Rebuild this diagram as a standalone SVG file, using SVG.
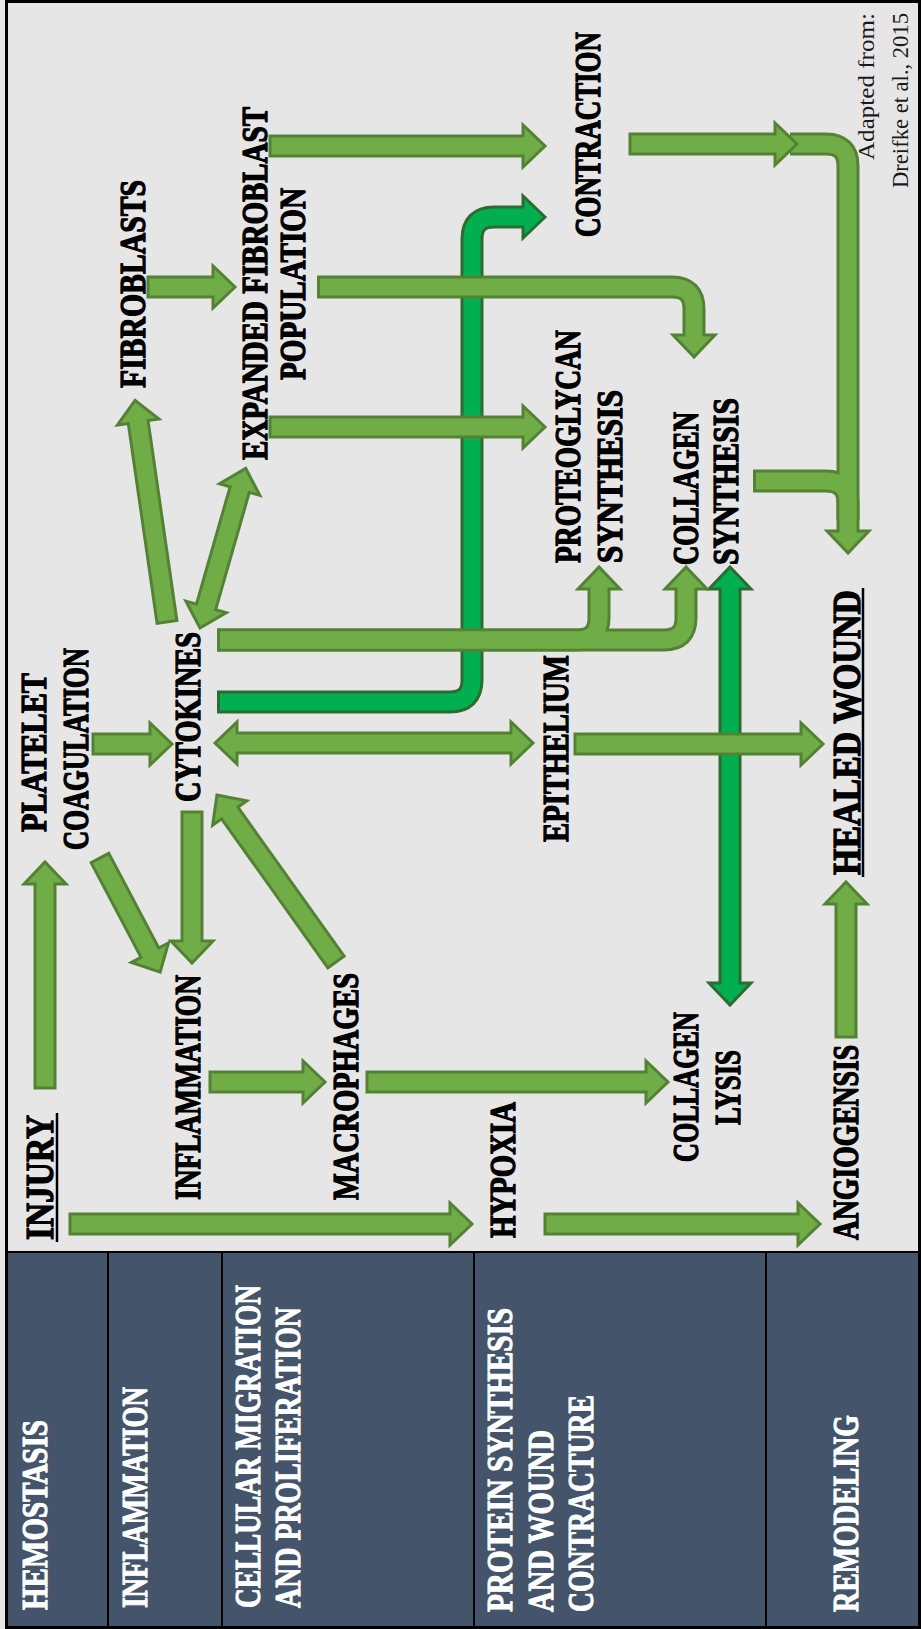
<svg xmlns="http://www.w3.org/2000/svg" width="921" height="1629" viewBox="0 0 921 1629">
<style>
.t{font-family:'Liberation Serif','Times New Roman',serif;font-weight:bold;font-size:36px;fill:#000;stroke:#000;stroke-width:1.3;stroke-linejoin:round}
.big{font-size:41px}
.p{font-family:'Liberation Serif','Times New Roman',serif;font-weight:bold;font-size:36px;fill:#fff;stroke:#fff;stroke-width:1.1;stroke-linejoin:round}
.cite{font-family:'Liberation Serif','Times New Roman',serif;font-size:23px;fill:#1a1a1a}
.a{fill:#70ad47;stroke:#548235;stroke-width:3;stroke-linejoin:miter}
.b{fill:#00b050;stroke:#2e6b30;stroke-width:3;stroke-linejoin:miter}
.ao{fill:none;stroke:#548235;stroke-width:23}
.ai{fill:none;stroke:#70ad47;stroke-width:17}
.bo{fill:none;stroke:#2e6b30;stroke-width:23}
.bi{fill:none;stroke:#00b050;stroke-width:17}
.sep{stroke:#000;stroke-width:2}
.ul{stroke:#000;stroke-width:2.5}
</style>
<rect x="0" y="0" width="921" height="1629" fill="#e7e6e6"/>
<g id="phase-panel">
<rect x="7" y="1252" width="913" height="375" fill="#44546a"/>
<line class="sep" x1="7" y1="1252" x2="920" y2="1252"/>
<line class="sep" x1="108" y1="1252" x2="108" y2="1627"/>
<line class="sep" x1="222" y1="1252" x2="222" y2="1627"/>
<line class="sep" x1="474" y1="1252" x2="474" y2="1627"/>
<line class="sep" x1="766" y1="1252" x2="766" y2="1627"/>
<text class="p" transform="translate(47,1610) rotate(-90)" textLength="190" lengthAdjust="spacingAndGlyphs">HEMOSTASIS</text>
<text class="p" transform="translate(147,1608) rotate(-90)" textLength="221" lengthAdjust="spacingAndGlyphs">INFLAMMATION</text>
<text class="p" transform="translate(260,1608) rotate(-90)" textLength="323" lengthAdjust="spacingAndGlyphs">CELLULAR MIGRATION</text>
<text class="p" transform="translate(300,1608) rotate(-90)" textLength="301" lengthAdjust="spacingAndGlyphs">AND PROLIFERATION</text>
<text class="p" transform="translate(512,1612) rotate(-90)" textLength="304" lengthAdjust="spacingAndGlyphs">PROTEIN SYNTHESIS</text>
<text class="p" transform="translate(553,1612) rotate(-90)" textLength="182" lengthAdjust="spacingAndGlyphs">AND WOUND</text>
<text class="p" transform="translate(593,1612) rotate(-90)" textLength="217" lengthAdjust="spacingAndGlyphs">CONTRACTURE</text>
<text class="p" transform="translate(858,1612) rotate(-90)" textLength="197" lengthAdjust="spacingAndGlyphs">REMODELING</text>
</g>
<rect x="6.5" y="1.5" width="913" height="1626" fill="none" stroke="#000" stroke-width="3"/>

<g id="connectors">
<g id="bright">
<path class="bo" d="M217,702 H450 Q472,702 472,680 V239 Q472,217 494,217 H523"/>
<polygon class="b" points="545,217 523,196 523,238"/>
<path class="bi" d="M220,702 H450 Q472,702 472,680 V239 Q472,217 494,217 H526"/>
<polygon class="b" transform="translate(730,567) rotate(90)" points="0,0 22,-21 22,-10 416,-10 416,-21 438,0 416,21 416,10 22,10 22,21"/>
</g>
<g id="light">
<polygon class="a" transform="translate(45,1088) rotate(-90)" points="0,-10 204,-10 204,-21 226,0 204,21 204,10 0,10"/>
<polygon class="a" transform="translate(100,858) rotate(62.2)" points="0,-10 107,-10 107,-21 129,0 107,21 107,10 0,10"/>
<polygon class="a" transform="translate(192,812) rotate(90)" points="0,-10 129,-10 129,-21 151,0 129,21 129,10 0,10"/>
<polygon class="a" transform="translate(336,962) rotate(-125.5)" points="0,-10 183,-10 183,-21 205,0 183,21 183,10 0,10"/>
<polygon class="a" transform="translate(93,744)" points="0,-10 57,-10 57,-21 79,0 57,21 57,10 0,10"/>
<polygon class="a" transform="translate(215,743)" points="0,0 22,-21 22,-10 296,-10 296,-21 318,0 296,21 296,10 22,10 22,21"/>
<polygon class="a" transform="translate(167,622) rotate(-98.2)" points="0,-10 202,-10 202,-21 224,0 202,21 202,10 0,10"/>
<polygon class="a" transform="translate(200,628) rotate(-74)" points="0,0 22,-21 22,-10 144,-10 144,-21 166,0 144,21 144,10 22,10 22,21"/>
<polygon class="a" transform="translate(270,427)" points="0,-10 253,-10 253,-21 275,0 253,21 253,10 0,10"/>
<polygon class="a" transform="translate(270,146)" points="0,-10 253,-10 253,-21 275,0 253,21 253,10 0,10"/>
<polygon class="a" transform="translate(148,287)" points="0,-10 65,-10 65,-21 87,0 65,21 65,10 0,10"/>
<polygon class="a" transform="translate(210,1082)" points="0,-10 93,-10 93,-21 115,0 93,21 93,10 0,10"/>
<polygon class="a" transform="translate(367,1082)" points="0,-10 279,-10 279,-21 301,0 279,21 279,10 0,10"/>
<polygon class="a" transform="translate(70,1224)" points="0,-10 380,-10 380,-21 402,0 380,21 380,10 0,10"/>
<polygon class="a" transform="translate(545,1224)" points="0,-10 253,-10 253,-21 275,0 253,21 253,10 0,10"/>
<polygon class="a" transform="translate(846,1037) rotate(-90)" points="0,-10 133,-10 133,-21 155,0 133,21 133,10 0,10"/>
<polygon class="a" transform="translate(575,744)" points="0,-10 226,-10 226,-21 248,0 226,21 226,10 0,10"/>
<path class="ao" d="M217,640 H577 Q599,640 599,618 V589"/>
<path class="ao" d="M217,640 H664 Q686,640 686,618 V589"/>
<path class="ao" d="M317,287 H672 Q694,287 694,309 V335"/>
<path class="ao" d="M790,144 H826 Q848,144 848,166 V531"/>
<path class="ao" d="M753,481 H826 Q848,481 848,503 V520"/>
<polygon class="a" points="599,567 578,589 620,589"/>
<polygon class="a" points="686,567 665,589 707,589"/>
<polygon class="a" points="694,357 673,335 715,335"/>
<polygon class="a" points="848,553 827,531 869,531"/>
<path class="ai" d="M220,640 H577 Q599,640 599,618 V587"/>
<path class="ai" d="M220,640 H664 Q686,640 686,618 V587"/>
<path class="ai" d="M320,287 H672 Q694,287 694,309 V337"/>
<path class="ai" d="M790,144 H826 Q848,144 848,166 V533"/>
<path class="ai" d="M756,481 H826 Q848,481 848,503 V520"/>
<polygon class="a" transform="translate(630,144)" points="0,-10 145,-10 145,-21 167,0 145,21 145,10 0,10"/>
</g>
</g>

<g id="node-injury"><text class="t big" transform="translate(53,1240) rotate(-90)" textLength="125" lengthAdjust="spacingAndGlyphs">INJURY</text><line class="ul" x1="57" y1="1242" x2="57" y2="1113"/></g>
<g id="node-platelet"><text class="t" transform="translate(46,832) rotate(-90)" textLength="159" lengthAdjust="spacingAndGlyphs">PLATELET</text><text class="t" transform="translate(88,850) rotate(-90)" textLength="202" lengthAdjust="spacingAndGlyphs">COAGULATION</text></g>
<g id="node-cytokines"><text class="t" transform="translate(200,802) rotate(-90)" textLength="170" lengthAdjust="spacingAndGlyphs">CYTOKINES</text></g>
<g id="node-inflammation"><text class="t" transform="translate(200,1200) rotate(-90)" textLength="225" lengthAdjust="spacingAndGlyphs">INFLAMMATION</text></g>
<g id="node-macrophages"><text class="t" transform="translate(358,1200) rotate(-90)" textLength="227" lengthAdjust="spacingAndGlyphs">MACROPHAGES</text></g>
<g id="node-hypoxia"><text class="t" transform="translate(515,1238) rotate(-90)" textLength="136" lengthAdjust="spacingAndGlyphs">HYPOXIA</text></g>
<g id="node-collagen-lysis"><text class="t" transform="translate(698,1162) rotate(-90)" textLength="150" lengthAdjust="spacingAndGlyphs">COLLAGEN</text><text class="t" transform="translate(740,1125) rotate(-90)" textLength="75" lengthAdjust="spacingAndGlyphs">LYSIS</text></g>
<g id="node-angiogenesis"><text class="t" transform="translate(858,1240) rotate(-90)" textLength="195" lengthAdjust="spacingAndGlyphs">ANGIOGENSIS</text></g>
<g id="node-healed"><text class="t big" transform="translate(860,875) rotate(-90)" textLength="285" lengthAdjust="spacingAndGlyphs">HEALED WOUND</text><line class="ul" x1="863" y1="877" x2="863" y2="588"/></g>
<g id="node-epithelium"><text class="t" transform="translate(568,842) rotate(-90)" textLength="187" lengthAdjust="spacingAndGlyphs">EPITHELIUM</text></g>
<g id="node-proteoglycan"><text class="t" transform="translate(580,563) rotate(-90)" textLength="233" lengthAdjust="spacingAndGlyphs">PROTEOGLYCAN</text><text class="t" transform="translate(622,563) rotate(-90)" textLength="173" lengthAdjust="spacingAndGlyphs">SYNTHESIS</text></g>
<g id="node-collagen-synthesis"><text class="t" transform="translate(698,565) rotate(-90)" textLength="153" lengthAdjust="spacingAndGlyphs">COLLAGEN</text><text class="t" transform="translate(738,565) rotate(-90)" textLength="167" lengthAdjust="spacingAndGlyphs">SYNTHESIS</text></g>
<g id="node-fibroblasts"><text class="t" transform="translate(145,388) rotate(-90)" textLength="208" lengthAdjust="spacingAndGlyphs">FIBROBLASTS</text></g>
<g id="node-expanded"><text class="t" transform="translate(267,460) rotate(-90)" textLength="353" lengthAdjust="spacingAndGlyphs">EXPANDED FIBROBLAST</text><text class="t" transform="translate(305,380) rotate(-90)" textLength="192" lengthAdjust="spacingAndGlyphs">POPULATION</text></g>
<g id="node-contraction"><text class="t" transform="translate(600,237) rotate(-90)" textLength="205" lengthAdjust="spacingAndGlyphs">CONTRACTION</text></g>
<g id="citation"><text class="cite" transform="translate(874,160) rotate(-90)" textLength="147" lengthAdjust="spacingAndGlyphs">Adapted from:</text><text class="cite" transform="translate(908,188) rotate(-90)" textLength="175" lengthAdjust="spacingAndGlyphs">Dreifke et al., 2015</text></g>
</svg>
